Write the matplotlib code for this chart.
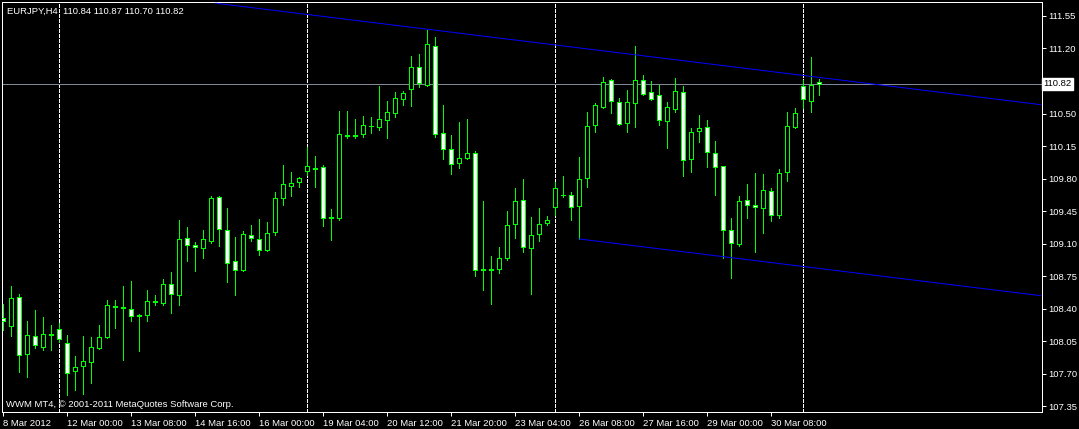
import numpy as np
import matplotlib.pyplot as plt

plt.rcParams['font.family'] = ['Liberation Sans', 'DejaVu Sans']

symbol = "EURJPY,H4"

# H4 candles (bar 0 = leftmost)
opens = [108.30, 108.21, 108.52, 107.91, 108.10, 107.99, 108.12, 108.18, 108.03, 107.73,
         107.78, 107.83, 107.98, 108.09, 108.43, 108.41, 108.40, 108.32, 108.33, 108.47,
         108.46, 108.66, 108.55, 109.16, 109.08, 109.05, 109.13, 109.60, 109.25, 108.91,
         108.82, 109.19, 109.15, 109.03, 109.22, 109.59, 109.72, 109.76, 109.88, 109.90,
         109.92, 109.38, 109.38, 110.27, 110.26, 110.28, 110.37, 110.35, 110.43, 110.51,
         110.66, 110.76, 111.00, 110.81, 111.23, 110.29, 110.12, 109.97, 110.02, 110.08,
         108.83, 108.82, 108.83, 108.94, 109.31, 109.57, 109.05, 109.20, 109.32, 109.49,
         109.62, 109.62, 109.50, 109.81, 110.38, 110.57, 110.86, 110.62, 110.40, 110.61,
         110.86, 110.73, 110.70, 110.42, 110.55, 110.73, 110.01, 110.31, 110.36, 110.08,
         109.93, 109.25, 109.10, 109.57, 109.51, 109.48, 109.67, 109.41, 109.87, 110.36,
         110.80, 110.63, 110.84]
highs = [108.45, 108.64, 108.56, 108.27, 108.39, 108.31, 108.22, 108.24, 108.12, 107.89,
         108.11, 108.09, 108.22, 108.49, 108.49, 108.64, 108.70, 108.34, 108.60, 108.55,
         108.72, 108.79, 109.35, 109.28, 109.12, 109.25, 109.61, 109.61, 109.48, 109.17,
         109.24, 109.30, 109.36, 109.33, 109.65, 109.95, 109.87, 109.82, 110.14, 110.04,
         109.95, 109.47, 110.53, 110.53, 110.44, 110.47, 110.46, 110.80, 110.64, 110.73,
         110.74, 111.12, 111.14, 111.40, 111.32, 110.59, 110.27, 110.41, 110.44, 110.10,
         109.56, 108.97, 109.06, 109.45, 109.70, 109.80, 109.39, 109.48, 109.40, 109.76,
         109.83, 109.65, 110.03, 110.52, 110.61, 110.89, 110.87, 110.67, 110.75, 111.23,
         110.91, 110.85, 110.81, 110.62, 110.88, 110.80, 110.34, 110.48, 110.43, 110.20,
         109.94, 109.37, 109.61, 109.74, 109.86, 109.85, 109.70, 109.90, 110.52, 110.56,
         110.86, 111.11, 110.87]
lows = [108.17, 108.11, 107.72, 107.66, 107.98, 107.95, 107.95, 108.04, 107.47, 107.52,
        107.48, 107.60, 107.97, 108.08, 108.19, 107.85, 108.27, 107.94, 108.27, 108.44,
        108.44, 108.35, 108.44, 108.91, 108.80, 108.95, 109.11, 109.07, 108.69, 108.55,
        108.81, 109.13, 108.98, 109.02, 109.19, 109.52, 109.61, 109.71, 109.84, 109.71,
        109.29, 109.14, 109.35, 110.24, 110.24, 110.25, 110.29, 110.32, 110.24, 110.46,
        110.59, 110.58, 110.78, 110.80, 110.25, 110.01, 109.85, 109.91, 110.01, 108.75,
        108.60, 108.45, 108.78, 108.92, 109.16, 109.01, 108.56, 109.13, 109.30, 109.41,
        109.60, 109.35, 109.15, 109.71, 110.30, 110.56, 110.51, 110.38, 110.30, 110.35,
        110.70, 110.65, 110.38, 110.13, 110.52, 109.83, 109.87, 110.19, 109.92, 109.62,
        108.95, 108.73, 109.07, 109.37, 109.01, 109.21, 109.34, 109.38, 109.77, 110.34,
        110.56, 110.52, 110.70]
closes = [108.27, 108.51, 107.90, 108.12, 108.01, 108.13, 108.13, 108.07, 107.71, 107.77,
          107.84, 107.99, 108.09, 108.44, 108.42, 108.42, 108.32, 108.33, 108.48, 108.48,
          108.66, 108.56, 109.15, 109.09, 109.06, 109.15, 109.59, 109.26, 108.89, 108.82,
          109.20, 109.16, 109.03, 109.21, 109.59, 109.74, 109.75, 109.81, 109.94, 109.91,
          109.38, 109.39, 110.28, 110.26, 110.27, 110.38, 110.37, 110.44, 110.52, 110.67,
          110.72, 111.00, 110.83, 111.25, 110.28, 110.12, 109.96, 110.02, 110.07, 108.82,
          108.82, 108.83, 108.94, 109.30, 109.56, 109.06, 109.19, 109.31, 109.35, 109.70,
          109.62, 109.49, 109.80, 110.37, 110.59, 110.84, 110.63, 110.39, 110.62, 110.86,
          110.71, 110.66, 110.43, 110.57, 110.74, 110.00, 110.30, 110.34, 110.09, 109.92,
          109.25, 109.11, 109.56, 109.52, 109.49, 109.68, 109.41, 109.86, 110.37, 110.51,
          110.66, 110.81, 110.82]

date_ticks = [0, 8, 16, 24, 32, 40, 48, 56, 64, 72, 80, 88, 96]
date_labels = ["8 Mar 2012", "12 Mar 00:00", "13 Mar 08:00", "14 Mar 16:00",
               "16 Mar 00:00", "19 Mar 04:00", "20 Mar 12:00", "21 Mar 20:00",
               "23 Mar 04:00", "26 Mar 08:00", "27 Mar 16:00", "29 Mar 00:00",
               "30 Mar 08:00"]
separator_bars = [7, 38, 69, 100]
price_ticks = [111.55, 111.20, 110.50, 110.15, 109.80, 109.45, 109.10,
               108.75, 108.40, 108.05, 107.70, 107.35]
bid = 110.82

# trend lines: (bar, price) anchors
upper_line_bars = [26.6, 129.75]
upper_line_prices = [111.687, 110.595]
lower_line_bars = [72.0, 129.75]
lower_line_prices = [109.15, 108.539]

GREEN = '#00ff00'
px = 0.72  # one pixel in points at 100 dpi
FS = 6.8

o = np.array(opens)
c = np.array(closes)
bars = np.arange(len(o))
fills = np.where(c >= o, 'black', 'white')

fig = plt.figure(figsize=(10.79, 4.29), dpi=100, facecolor='black')
ax = fig.add_axes([2.3 / 1079, 1 - 412.3 / 429, 1039.4 / 1079, 410 / 429])
ax.set_facecolor('black')
ax.set_xlim(-0.09, 129.84)
ax.set_ylim(107.284, 111.697)

for b in separator_bars:
    ax.axvline(b, color='white', lw=px, linestyle=(0, (3, 2)), zorder=1, antialiased=False)
ax.axhline(bid, color='#7f8a96', lw=px, zorder=1, antialiased=False)

ax.vlines(bars, lows, highs, color=GREEN, lw=px, zorder=2, antialiased=False)
ax.bar(bars, np.abs(c - o), bottom=np.minimum(o, c), width=0.5, color=fills,
       edgecolor=GREEN, linewidth=px, zorder=3, antialiased=False)

ax.plot(upper_line_bars, upper_line_prices, color='#0000ff', lw=px, zorder=4)
ax.plot(lower_line_bars, lower_line_prices, color='#0000ff', lw=px, zorder=4)

for s in ax.spines.values():
    s.set_color('white')
    s.set_linewidth(px)

ax.yaxis.tick_right()
ax.set_yticks(price_ticks, [f"{p:.2f}" for p in price_ticks])
ax.tick_params(axis='y', colors='white', length=3, width=px, labelsize=FS, pad=2)
ax.set_xticks(date_ticks, date_labels)
ax.tick_params(axis='x', colors='white', length=3, width=px, labelsize=FS, pad=2)
for lbl in ax.get_xticklabels():
    lbl.set_horizontalalignment('left')

ax.text(1.0015, bid, f"{bid:.2f}", transform=ax.get_yaxis_transform(), color='black',
        fontsize=FS, ha='left', va='center', clip_on=False,
        bbox=dict(facecolor='white', edgecolor='white', pad=1.2))

header = f"{symbol}  {opens[-1]:.2f} {highs[-1]:.2f} {lows[-1]:.2f} {closes[-1]:.2f}"
ax.text(0.0045, 0.979, header, transform=ax.transAxes, color='white',
        fontsize=FS, ha='left', va='center')
ax.text(0.0036, 0.02, "WWM MT4, \u00a9 2001-2011 MetaQuotes Software Corp.",
        transform=ax.transAxes, color='white', fontsize=FS, ha='left', va='center')

fig.savefig('out.png', dpi=100, facecolor='black')
